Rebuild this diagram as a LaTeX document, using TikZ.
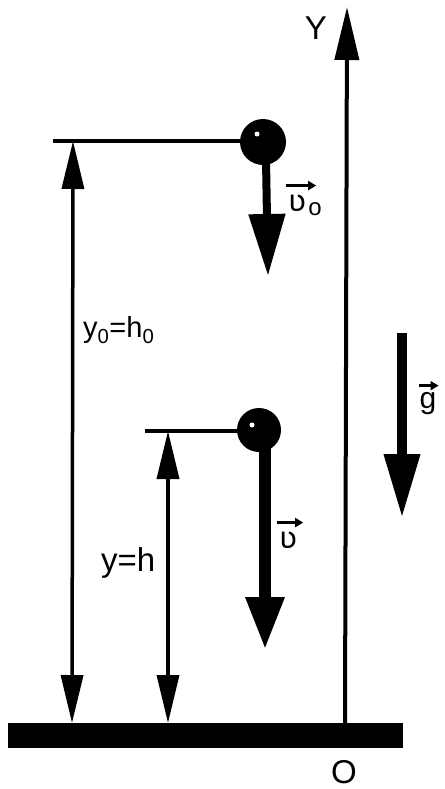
\documentclass[tikz,border=0pt]{standalone}
\usepackage{fontspec}
\setmainfont{Liberation Sans}
\newfontfamily\dv{DejaVu Sans}
\usetikzlibrary{arrows.meta}
\tikzset{
  dimline/.style={line width=3.5pt,{Triangle[length=48pt,width=22pt]}-{Triangle[length=48pt,width=22pt]}},
  hline/.style={line width=4.5pt},
  ball/.style={circle,fill=black,inner sep=0pt},
  lbl/.style={inner sep=0pt,font=\fontsize{33}{36}\selectfont},
  vlbl/.style={inner sep=0pt,font=\fontsize{30}{34}\dv},
  vecarrow/.style={line width=2.5pt,-{Triangle[length=8pt,width=9pt]}}
}
\begin{document}
\begin{tikzpicture}[x=1pt,y=-1pt]
\useasboundingbox (0,0) rectangle (444,789);
% ground
\fill (8,723) rectangle (403,748);
% Y axis
\coordinate (O) at (345,723);
\coordinate (Ytop) at (347,7);
\draw[line width=4pt,-{Triangle[length=53pt,width=24pt]}] (O) -- (Ytop);
\node[lbl] (Y) at (316,28) {Y};
\node[lbl] (Olbl) at (344,772) {O};
% balls
\node[ball,minimum size=46pt] (b1) at (263,142) {};
\node[ball,minimum size=44pt] (b2) at (259,430) {};
\fill[white] (257,134) circle (2.5);
\fill[white] (252,425) circle (2.5);
% horizontal lines
\coordinate (h1) at (53,141);
\coordinate (h2) at (145,431);
\draw[hline] (h1) -- (h1 -| b1.center);
\draw[hline,line width=4pt] (h2) -- (h2 -| b2.center);
% dimension lines
\coordinate (d1t) at (73,141);
\coordinate (d1b) at (72,723);
\coordinate (d2t) at (168,431);
\coordinate (d2b) at (168,723);
\draw[dimline] (d1t) -- (d1b);
\draw[dimline] (d2t) -- (d2b);
\node[lbl,anchor=west,font=\fontsize{29}{32}\selectfont] (l1) at (83,330) {y\textsubscript{0}=h\textsubscript{0}};
\node[lbl,anchor=west] (l2) at (101,563) {y=h};
% velocity arrows
\coordinate (v1s) at (266,160);
\coordinate (v1e) at (268,276);
\draw[line width=8pt,-{Triangle[length=62pt,width=35pt]}] (v1s) -- (v1e);
\coordinate (v2s) at (265,448);
\coordinate (v2e) at (265,650);
\draw[line width=12pt,-{Triangle[length=53pt,width=36pt]}] (v2s) -- (v2e);
\node[vlbl] (v0l) at (297,203) {ʋ};
\node[inner sep=0pt,anchor=south west,font=\fontsize{24}{26}\selectfont] (v0s) at ([xshift=2pt,yshift=-5pt]v0l.south east) {o};
\draw[vecarrow] ([xshift=-2pt,yshift=9pt]v0l.north west) -- ([xshift=10pt,yshift=9pt]v0l.north east);
\node[vlbl] (vl) at (288,540) {ʋ};
\draw[vecarrow] ([xshift=-2pt,yshift=9pt]vl.north west) -- ([xshift=6pt,yshift=9pt]vl.north east);
% gravity
\coordinate (gs) at (402,333);
\coordinate (ge) at (402,518);
\draw[line width=10pt,-{Triangle[length=64pt,width=34pt]}] (gs) -- (ge);
\node[inner sep=0pt,font=\fontsize{30}{32}\selectfont] (gl) at (428,404) {g};
\draw[vecarrow] ([yshift=7pt]gl.north west) -- ([xshift=2pt,yshift=7pt]gl.north east);
\end{tikzpicture}
\end{document}
